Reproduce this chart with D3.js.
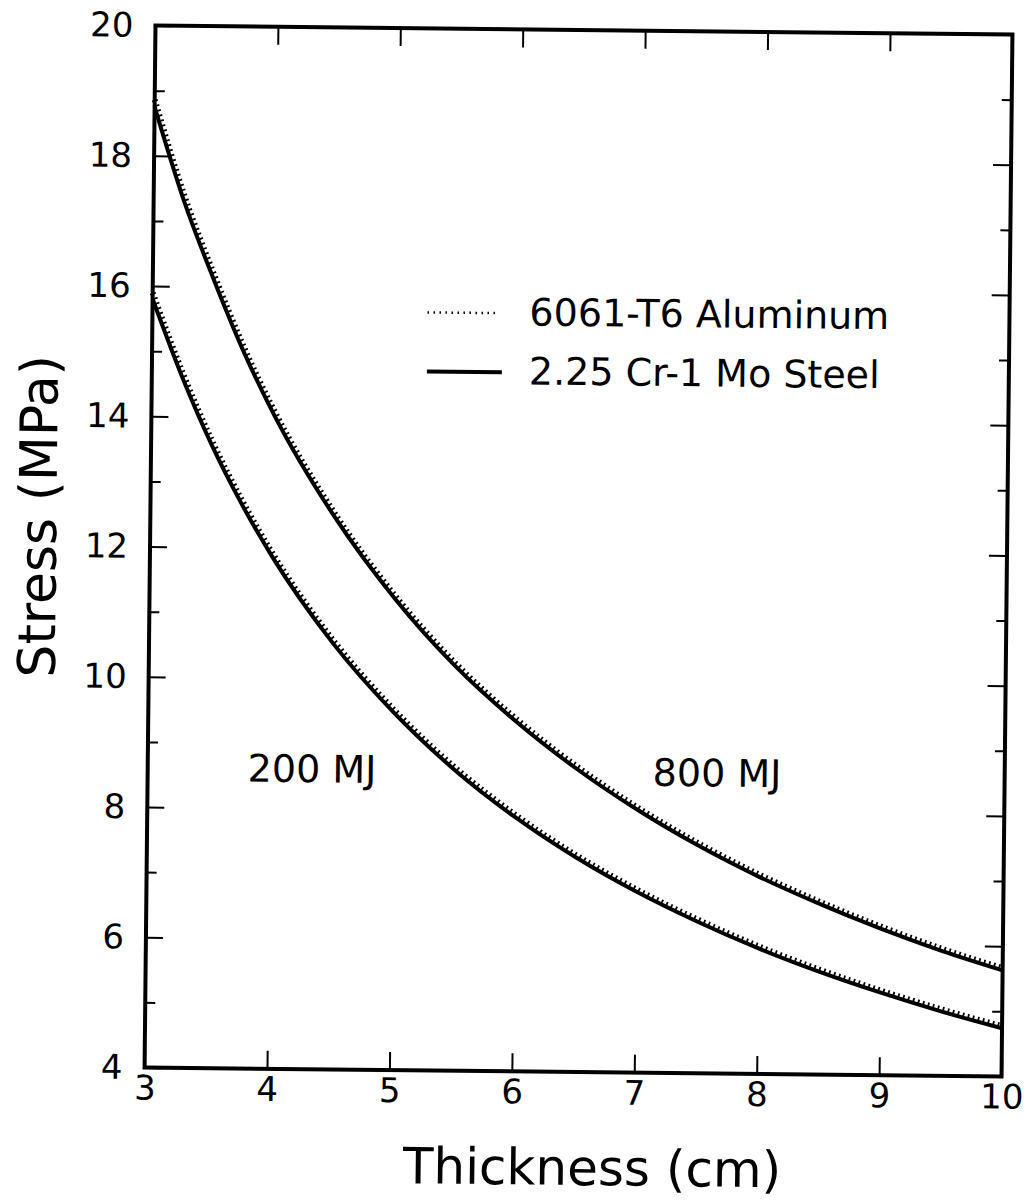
<!DOCTYPE html>
<html>
<head>
<meta charset="utf-8">
<script src="https://cdn.jsdelivr.net/npm/d3@7"></script>
<style>
  body { margin: 0; background: #fff; }
  text { font-family: "DejaVu Sans", sans-serif; fill: #000; }
</style>
</head>
<body>
<svg width="1027" height="1203"></svg>
<script>
var thickness = [3, 3.25, 3.5, 3.75, 4, 4.5, 5, 5.5, 6, 6.5, 7, 7.5, 8, 8.5, 9, 9.5, 10];

// 800 MJ curves (MPa)
var steel800 = [18.75, 17.3, 16.1, 15.0, 14.05, 12.5, 11.25, 10.22, 9.38, 8.66, 8.04, 7.5, 7.03, 6.62, 6.25, 5.92, 5.63];
var alum800  = [18.86, 17.395, 16.185, 15.075, 14.115, 12.555, 11.298, 10.264, 9.42, 8.698, 8.076, 7.535, 7.064, 6.653, 6.283, 5.952, 5.662];

// 200 MJ curves (MPa)
var steel200 = [15.8, 14.6, 13.55, 12.65, 11.86, 10.55, 9.5, 8.63, 7.91, 7.3, 6.78, 6.33, 5.93, 5.58, 5.27, 4.99, 4.74];
var alum200  = [15.895, 14.683, 13.623, 12.715, 11.918, 10.6, 9.545, 8.671, 7.948, 7.336, 6.815, 6.364, 5.963, 5.613, 5.302, 5.022, 4.772];

var xTicks = [3, 4, 5, 6, 7, 8, 9, 10];
var yMajor = [4, 6, 8, 10, 12, 14, 16, 18, 20];
var yMinor = [5, 7, 9, 11, 13, 15, 17, 19];
var legendNames = ["6061-T6 Aluminum", "2.25 Cr-1 Mo Steel"];
var energyLabels = ["200 MJ", "800 MJ"];

var svg = d3.select("svg");

var plotLeft = 150, plotRight = 1007, plotTop = 30, plotBottom = 1072;

var xScale = d3.scaleLinear().domain([3, 10]).range([plotLeft, plotRight]);
var yScale = d3.scaleLinear().domain([4, 20]).range([plotBottom, plotTop]);

// the scanned page is turned a little clockwise
var g = svg.append("g")
    .attr("transform", "rotate(0.6," + (plotLeft + plotRight) / 2 + "," + (plotTop + plotBottom) / 2 + ")");

function styleAxis(sel) {
  sel.select(".domain").remove();
  sel.selectAll(".tick line").attr("stroke", "#000").attr("stroke-width", 2);
  sel.selectAll(".tick text")
    .attr("font-family", "DejaVu Sans")
    .attr("font-size", 34)
    .attr("fill", "#000");
}

//axis x, bottom
g.append("g")
    .attr("transform", "translate(0," + plotBottom + ")")
    .call(d3.axisBottom(xScale).tickValues(xTicks).tickSize(-18).tickPadding(8).tickFormat(d3.format("d")))
    .call(styleAxis);
//axis x, top
g.append("g")
    .attr("transform", "translate(0," + plotTop + ")")
    .call(d3.axisTop(xScale).tickValues(xTicks).tickSize(-18).tickFormat(""))
    .call(styleAxis);
//axis y, left
g.append("g")
    .attr("transform", "translate(" + plotLeft + ",0)")
    .call(d3.axisLeft(yScale).tickValues(yMajor).tickSize(-17).tickPadding(22).tickFormat(d3.format("d")))
    .call(styleAxis);
g.append("g")
    .attr("transform", "translate(" + plotLeft + ",0)")
    .call(d3.axisLeft(yScale).tickValues(yMinor).tickSize(-10).tickFormat(""))
    .call(styleAxis);
//axis y, right
g.append("g")
    .attr("transform", "translate(" + plotRight + ",0)")
    .call(d3.axisRight(yScale).tickValues(yMajor).tickSize(-18).tickFormat(""))
    .call(styleAxis);
g.append("g")
    .attr("transform", "translate(" + plotRight + ",0)")
    .call(d3.axisRight(yScale).tickValues(yMinor).tickSize(-10).tickFormat(""))
    .call(styleAxis);

// frame
g.append("rect")
    .attr("x", plotLeft).attr("y", plotTop)
    .attr("width", plotRight - plotLeft).attr("height", plotBottom - plotTop)
    .attr("fill", "none")
    .attr("stroke", "#000")
    .attr("stroke-width", 4);

var line = d3.line()
    .x(function(d) { return xScale(d[0]); })
    .y(function(d) { return yScale(d[1]); })
    .curve(d3.curveMonotoneX);

function pairs(vals) {
  return thickness.map(function(t, i) { return [t, vals[i]]; });
}

// aluminum: dotted, sits just above the steel line
[alum800, alum200].forEach(function(vals) {
  g.append("path")
      .datum(pairs(vals))
      .attr("fill", "none")
      .attr("stroke", "#000")
      .attr("stroke-width", 6)
      .attr("stroke-dasharray", "1.8,3.4")
      .attr("d", line);
});
// steel: solid
[steel800, steel200].forEach(function(vals) {
  g.append("path")
      .datum(pairs(vals))
      .attr("fill", "none")
      .attr("stroke", "#000")
      .attr("stroke-width", 4)
      .attr("d", line);
});

// legend
var leg = g.append("g");
leg.append("line")
    .attr("x1", 425).attr("x2", 497).attr("y1", 314).attr("y2", 314)
    .attr("stroke", "#000").attr("stroke-width", 2.5)
    .attr("stroke-dasharray", "1.5,4.5");
leg.append("line")
    .attr("x1", 425).attr("x2", 500).attr("y1", 373).attr("y2", 373)
    .attr("stroke", "#000").attr("stroke-width", 4);
leg.selectAll("text.name")
    .data(legendNames)
    .enter().append("text")
    .attr("class", "name")
    .attr("x", 527)
    .attr("y", function(d, i) { return 326 + i * 59; })
    .attr("font-size", 38)
    .text(function(d) { return d; });

// energy labels
g.append("text")
    .attr("x", 250).attr("y", 785)
    .attr("font-size", 38)
    .text(energyLabels[0]);
g.append("text")
    .attr("x", 655).attr("y", 785)
    .attr("font-size", 38)
    .text(energyLabels[1]);

// axis titles
g.append("text")
    .attr("x", (plotLeft + plotRight) / 2 + 20)
    .attr("y", 1185)
    .attr("text-anchor", "middle")
    .attr("font-size", 50)
    .text("Thickness (cm)");
g.append("text")
    .attr("transform", "translate(56," + 522 + ") rotate(-90)")
    .attr("text-anchor", "middle")
    .attr("font-size", 52)
    .text("Stress (MPa)");
</script>
</body>
</html>
